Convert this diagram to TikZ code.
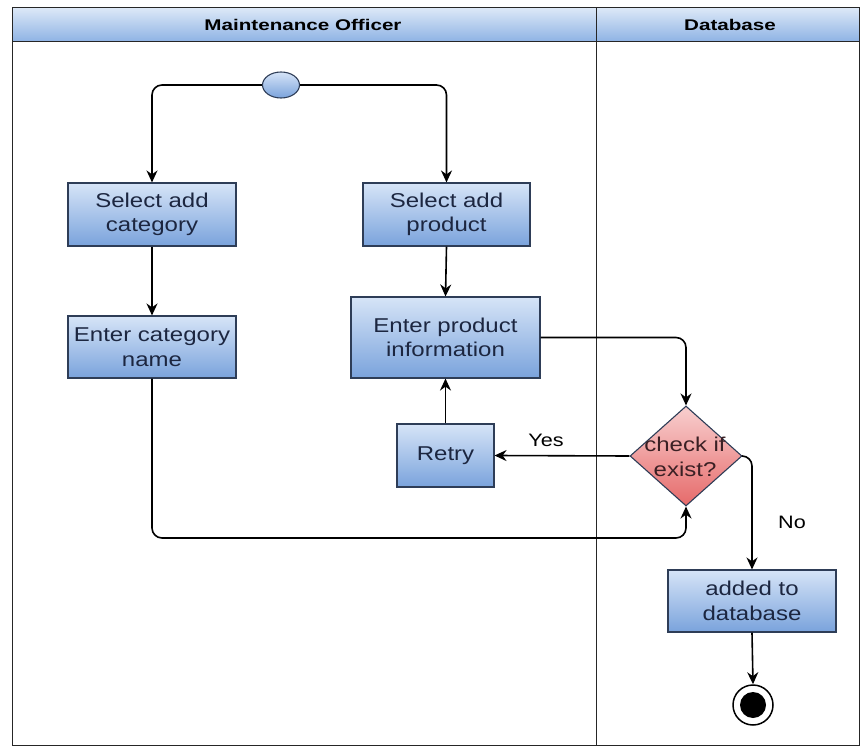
\documentclass[tikz,border=0pt]{standalone}
\usepackage{fontspec}
\setmainfont[FakeStretch=1.2]{Liberation Sans}
\newfontfamily\hdrfont[FakeStretch=1.33]{Liberation Sans}
\usetikzlibrary{arrows.meta,shapes.geometric,calc}
\definecolor{boxtop}{HTML}{D6E4F7}
\definecolor{boxbot}{HTML}{7AA3DC}
\definecolor{boxline}{HTML}{2E3D57}
\definecolor{boxtext}{HTML}{1C2640}
\definecolor{hdrtop}{HTML}{DCE8F7}
\definecolor{hdrbot}{HTML}{8DB2E4}
\definecolor{dtop}{HTML}{F8CFCF}
\definecolor{dbot}{HTML}{E66A6A}
\definecolor{dtext}{HTML}{3A2024}
\tikzset{
  act/.style={draw=boxline, line width=1.1pt, top color=boxtop, bottom color=boxbot,
    text=boxtext, align=center, font=\fontsize{20}{24.5}\selectfont, inner sep=0pt},
  conn/.style={line width=1.6pt, draw=black, rounded corners=10pt,
    -{Stealth[length=12pt,width=11pt]}},
  lbl/.style={font=\fontsize{18}{22}\selectfont, text=black},
  hdr/.style={font=\hdrfont\bfseries\fontsize{15.5}{18}\selectfont, text=black}
}
\begin{document}
\begin{tikzpicture}[x=1pt,y=-1pt]
\useasboundingbox (0,0) rectangle (860,749);
% header and lanes
\shade[top color=hdrtop, bottom color=hdrbot] (12,8) rectangle (859,42);
\draw[line width=1pt, draw=black!85] (12,8) rectangle (859,745);
\draw[line width=1pt, draw=black!85] (12,42) -- (859,42);
\draw[line width=1pt, draw=black!85] (596,8) -- (596,745);
\node[hdr] (h1) at (303,25) {Maintenance Officer};
\node[hdr] (h2) at (730,25) {Database};
% start
\node[draw=boxline, line width=1.1pt, top color=boxtop, bottom color=boxbot,
  ellipse, minimum width=37pt, minimum height=26pt, inner sep=0pt] (start) at (281,85) {};
% actions
\node[act, minimum width=168pt, minimum height=63pt] (sc) at (152,214.5) {Select add\\category};
\node[act, minimum width=167pt, minimum height=63pt] (sp) at (446.5,214.5) {Select add\\product};
\node[act, minimum width=168pt, minimum height=62pt] (ecn) at (152,347) {Enter category\\name};
\node[act, minimum width=189pt, minimum height=81pt] (epi) at (445.5,337.5) {Enter product\\information};
\node[act, minimum width=97pt, minimum height=63pt] (retry) at (445.5,455.5) {Retry};
\node[draw=boxline, line width=1.1pt, top color=dtop, bottom color=dbot, diamond,
  minimum width=112pt, minimum height=100pt, inner sep=0pt] (d) at (686,456) {};
\node[align=center, text=dtext, font=\fontsize{20}{24.5}\selectfont] (dt) at (685,457) {check if\\exist?};
\node[act, minimum width=168pt, minimum height=62pt] (add) at (752,601) {added to\\database};
% end
\node[circle, draw=black, line width=1.5pt, fill=white, minimum size=40pt, inner sep=0pt] (end) at (753,705) {};
\node[circle, fill=black, minimum size=26pt, inner sep=0pt] (endin) at (753,705) {};
% connectors
\coordinate (c1) at (686,538);
\draw[conn] (start.west) -| (sc.north);
\draw[conn] (start.east) -| (sp.north);
\draw[conn] (sc.south) -- (ecn.north);
\draw[conn] (sp.south) -- (epi.north);
\draw[conn] (epi.east) -| (d.north);
\draw[conn] (d.west) -- (retry.east);
\draw[conn] (retry.north) -- (epi.south);
\draw[conn] (d.east) -| (add.north);
\draw[conn] (ecn.south) |- (c1) -- (d.south);
\draw[conn] (add.south) -- (end.north);
\node[lbl] (yes) at (546,440) {Yes};
\node[lbl] (no) at (792,522) {No};
\end{tikzpicture}
\end{document}
